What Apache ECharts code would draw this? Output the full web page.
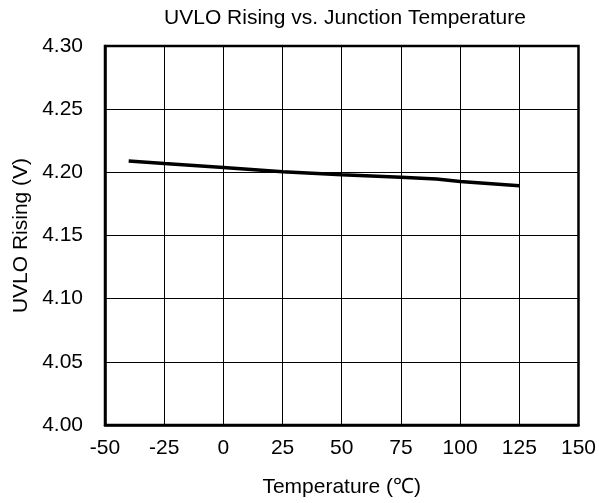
<!DOCTYPE html>
<html>
<head>
<meta charset="utf-8">
<script src="https://cdn.jsdelivr.net/npm/echarts@6/dist/echarts.min.js"></script>
<style>html,body{margin:0;padding:0;background:#fff}#c{width:599px;height:503px}</style>
</head>
<body>
<div id="c"></div>
<script>
var temps = [-40, -25, 0, 25, 50, 75, 90, 100, 125];
var uvloRising = [4.209, 4.207, 4.2038, 4.2005, 4.198, 4.1962, 4.1948, 4.1927, 4.1893];
var xTicks = [-50, -25, 0, 25, 50, 75, 100, 125, 150];
var yTicks = [4.00, 4.05, 4.10, 4.15, 4.20, 4.25, 4.30];

var chart = echarts.init(document.getElementById('c'));
var font = 'Liberation Sans, Arial, sans-serif';
var fs = 21;
chart.setOption({
  animation: false,
  title: {
    text: 'UVLO Rising vs. Junction Temperature',
    left: 340, top: 3, textAlign: 'center',
    textStyle: {fontFamily: font, fontSize: fs, fontWeight: 'normal', color: '#000'}
  },
  grid: {left: 105, right: 19, top: 46, bottom: 78, show: true, borderColor: '#000', borderWidth: 2.5, backgroundColor: 'transparent'},
  xAxis: {
    type: 'value', min: xTicks[0], max: xTicks[xTicks.length-1], interval: 25,
    name: 'Temperature (\u2103)', nameLocation: 'middle', nameGap: 52,
    nameTextStyle: {fontFamily: font, fontSize: fs, color: '#000'},
    axisLine: {show: true, onZero: false, lineStyle: {color: '#000', width: 2.5}},
    axisTick: {show: false},
    axisLabel: {fontFamily: font, fontSize: fs, color: '#000', margin: 13},
    splitLine: {show: true, lineStyle: {color: '#000', width: 1}}
  },
  yAxis: {
    type: 'value', min: yTicks[0], max: yTicks[yTicks.length-1], interval: 0.05,
    name: 'UVLO Rising (V)', nameLocation: 'middle', nameGap: 72, nameRotate: 90,
    nameTextStyle: {fontFamily: font, fontSize: fs, color: '#000'},
    axisLine: {show: true, onZero: false, lineStyle: {color: '#000', width: 2.5}},
    axisTick: {show: false},
    axisLabel: {fontFamily: font, fontSize: fs, color: '#000', margin: 22, formatter: function(v){return v.toFixed(2);}},
    splitLine: {show: true, lineStyle: {color: '#000', width: 1}}
  },
  series: [{
    type: 'line',
    data: temps.map(function(t, i){return [t, uvloRising[i]];}),
    showSymbol: false, symbol: 'none',
    lineStyle: {color: '#000', width: 3.5}
  }]
});
</script>
</body>
</html>
